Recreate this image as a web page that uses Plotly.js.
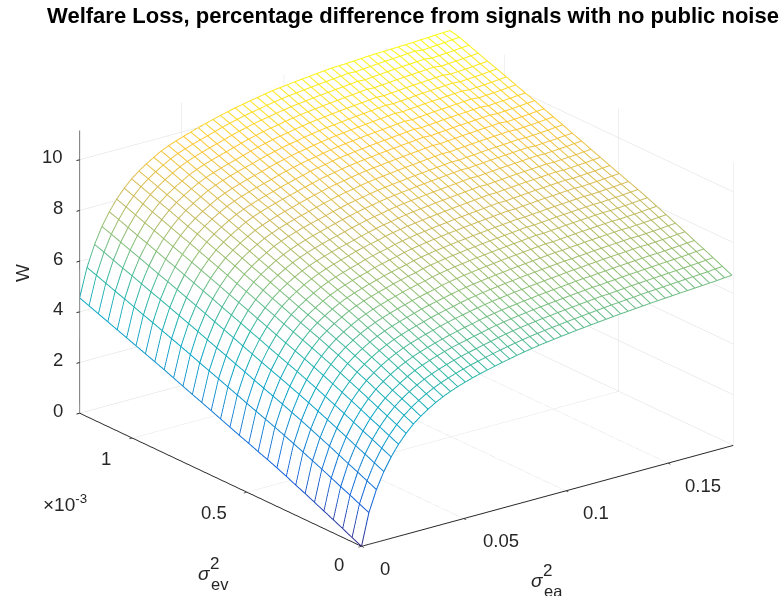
<!DOCTYPE html>
<html><head><meta charset="utf-8">
<script src="https://cdn.plot.ly/plotly-3.0.1.min.js"></script>
<style>html,body{margin:0;padding:0;background:#fff}</style></head>
<body><div id="chart" style="width:781px;height:596px"></div>
<script>
const chartTitle = "Welfare Loss, percentage difference from signals with no public noise";
const ea = [0,.0036,.0073,.0109,.0145,.0181,.0218,.0254,.029,.0326,.0363,.0399,.0435,.0471,.0508,.0544,.058,.0616,.0653,.0689,.0725,.0761,.0798,.0834,.087,.0907,.0943,.0979,.1015,.1052,.1088,.1124,.116,.1197,.1233,.1269,.1305,.1342,.1378,.1414,.145,.1487,.1523,.1559,.1595,.1632,.1668,.1704,.174,.1777,.1813];
const ev = [0,.041,.082,.123,.164,.205,.246,.287,.328,.369,.41,.451,.492,.533,.574,.615,.656,.697,.738,.779,.82,.861,.902,.943,.984,1.025,1.066,1.107,1.148,1.189,1.23];
const W = [
[0,1.25,2.08,2.71,3.21,3.63,3.98,4.27,4.50,4.70,4.88,5.03,5.16,5.27,5.37,5.46,5.54,5.61,5.68,5.75,5.81,5.87,5.93,5.98,6.03,6.07,6.11,6.15,6.18,6.22,6.25,6.28,6.31,6.34,6.37,6.40,6.42,6.45,6.47,6.50,6.52,6.54,6.56,6.58,6.60,6.62,6.64,6.66,6.68,6.71,6.73],
[.17,1.42,2.25,2.88,3.38,3.80,4.15,4.44,4.67,4.87,5.05,5.20,5.33,5.44,5.54,5.63,5.71,5.78,5.85,5.92,5.98,6.04,6.10,6.15,6.20,6.24,6.28,6.32,6.35,6.39,6.42,6.45,6.48,6.51,6.54,6.57,6.59,6.62,6.64,6.67,6.69,6.71,6.73,6.75,6.77,6.79,6.81,6.83,6.85,6.88,6.90],
[.35,1.59,2.42,3.05,3.55,3.97,4.32,4.61,4.84,5.04,5.22,5.37,5.50,5.61,5.71,5.80,5.88,5.95,6.02,6.09,6.15,6.22,6.28,6.33,6.38,6.42,6.46,6.50,6.53,6.57,6.60,6.63,6.66,6.69,6.72,6.75,6.76,6.79,6.81,6.84,6.86,6.88,6.90,6.92,6.94,6.96,6.98,7.00,7.02,7.05,7.07],
[.52,1.75,2.58,3.21,3.71,4.13,4.48,4.77,5.00,5.20,5.38,5.54,5.67,5.78,5.88,5.97,6.05,6.12,6.19,6.26,6.32,6.39,6.45,6.50,6.55,6.59,6.63,6.67,6.70,6.74,6.77,6.80,6.83,6.86,6.89,6.92,6.93,6.96,6.98,7.01,7.03,7.05,7.07,7.09,7.11,7.13,7.15,7.17,7.19,7.22,7.24],
[.69,1.92,2.75,3.38,3.88,4.30,4.65,4.94,5.17,5.37,5.55,5.70,5.83,5.94,6.04,6.13,6.21,6.29,6.36,6.43,6.49,6.56,6.62,6.67,6.72,6.76,6.80,6.84,6.87,6.91,6.94,6.97,7.00,7.03,7.06,7.09,7.10,7.13,7.15,7.18,7.20,7.22,7.24,7.26,7.28,7.29,7.31,7.33,7.35,7.38,7.40],
[.86,2.09,2.92,3.55,4.05,4.47,4.82,5.11,5.34,5.54,5.72,5.87,6.00,6.11,6.21,6.30,6.38,6.47,6.54,6.61,6.67,6.73,6.79,6.84,6.89,6.93,6.97,7.01,7.04,7.08,7.11,7.14,7.17,7.20,7.23,7.26,7.28,7.31,7.33,7.36,7.38,7.40,7.42,7.44,7.46,7.46,7.48,7.50,7.52,7.55,7.57],
[1.03,2.25,3.08,3.71,4.21,4.63,4.98,5.27,5.50,5.70,5.88,6.03,6.16,6.27,6.37,6.46,6.54,6.63,6.70,6.77,6.83,6.90,6.96,7.01,7.06,7.10,7.14,7.18,7.21,7.25,7.28,7.31,7.34,7.37,7.40,7.43,7.44,7.47,7.49,7.52,7.54,7.56,7.58,7.60,7.62,7.62,7.64,7.66,7.68,7.71,7.73],
[1.19,2.41,3.24,3.87,4.37,4.79,5.14,5.43,5.66,5.86,6.04,6.19,6.32,6.43,6.53,6.62,6.70,6.79,6.86,6.93,6.99,7.06,7.12,7.17,7.22,7.26,7.30,7.34,7.37,7.41,7.44,7.47,7.50,7.53,7.56,7.59,7.60,7.63,7.65,7.68,7.70,7.72,7.74,7.76,7.78,7.78,7.80,7.82,7.84,7.87,7.89],
[1.36,2.57,3.40,4.03,4.53,4.95,5.30,5.59,5.82,6.02,6.20,6.35,6.48,6.59,6.69,6.78,6.86,6.95,7.02,7.09,7.15,7.23,7.29,7.34,7.39,7.43,7.47,7.51,7.54,7.58,7.61,7.64,7.67,7.70,7.73,7.76,7.76,7.79,7.81,7.84,7.86,7.88,7.90,7.92,7.94,7.94,7.96,7.98,8.00,8.03,8.05],
[1.52,2.72,3.55,4.18,4.68,5.10,5.45,5.74,5.97,6.17,6.35,6.51,6.64,6.75,6.85,6.94,7.02,7.11,7.18,7.25,7.31,7.39,7.45,7.50,7.55,7.59,7.63,7.67,7.70,7.74,7.77,7.80,7.83,7.86,7.89,7.92,7.92,7.95,7.97,8.00,8.02,8.04,8.06,8.08,8.10,8.10,8.12,8.14,8.16,8.19,8.21],
[1.67,2.87,3.70,4.33,4.83,5.25,5.60,5.89,6.12,6.32,6.50,6.66,6.79,6.90,7.00,7.09,7.17,7.26,7.33,7.40,7.46,7.54,7.60,7.65,7.70,7.74,7.78,7.82,7.85,7.89,7.92,7.95,7.98,8.01,8.04,8.07,8.07,8.10,8.12,8.15,8.17,8.19,8.21,8.23,8.25,8.25,8.27,8.29,8.31,8.34,8.36],
[1.81,3.01,3.84,4.47,4.97,5.39,5.74,6.03,6.26,6.46,6.64,6.80,6.93,7.04,7.14,7.23,7.31,7.40,7.47,7.54,7.60,7.68,7.74,7.79,7.84,7.88,7.92,7.96,7.99,8.03,8.06,8.09,8.12,8.15,8.18,8.21,8.21,8.24,8.26,8.29,8.31,8.33,8.35,8.37,8.39,8.39,8.41,8.43,8.45,8.48,8.50],
[1.96,3.15,3.98,4.61,5.11,5.53,5.88,6.17,6.40,6.60,6.78,6.94,7.07,7.18,7.28,7.37,7.45,7.55,7.62,7.69,7.75,7.83,7.89,7.94,7.99,8.03,8.07,8.11,8.14,8.18,8.21,8.24,8.27,8.30,8.33,8.36,8.36,8.39,8.41,8.44,8.46,8.48,8.50,8.52,8.54,8.53,8.55,8.57,8.59,8.62,8.64],
[2.10,3.29,4.12,4.75,5.25,5.67,6.02,6.31,6.54,6.74,6.92,7.08,7.21,7.32,7.42,7.51,7.59,7.69,7.76,7.83,7.89,7.97,8.03,8.08,8.13,8.17,8.21,8.25,8.28,8.32,8.35,8.38,8.41,8.44,8.47,8.50,8.50,8.53,8.55,8.58,8.60,8.62,8.64,8.66,8.68,8.67,8.69,8.71,8.73,8.76,8.78],
[2.25,3.44,4.27,4.90,5.40,5.82,6.17,6.46,6.69,6.89,7.07,7.23,7.36,7.47,7.57,7.66,7.74,7.84,7.91,7.98,8.04,8.12,8.18,8.23,8.28,8.32,8.36,8.40,8.43,8.47,8.50,8.53,8.56,8.59,8.62,8.65,8.65,8.68,8.70,8.73,8.75,8.77,8.79,8.81,8.83,8.82,8.84,8.86,8.88,8.91,8.93],
[2.40,3.58,4.41,5.04,5.54,5.96,6.31,6.60,6.83,7.03,7.21,7.37,7.50,7.61,7.71,7.80,7.88,7.95,8.03,8.11,8.18,8.25,8.31,8.36,8.42,8.47,8.51,8.55,8.58,8.62,8.65,8.68,8.71,8.74,8.77,8.80,8.79,8.82,8.84,8.87,8.89,8.91,8.93,8.95,8.97,8.96,8.98,9.00,9.02,9.05,9.07],
[2.55,3.73,4.56,5.19,5.69,6.11,6.46,6.75,6.98,7.18,7.36,7.52,7.65,7.76,7.86,7.95,8.03,8.10,8.18,8.26,8.33,8.40,8.46,8.51,8.57,8.62,8.66,8.70,8.73,8.77,8.80,8.83,8.86,8.89,8.92,8.95,8.94,8.97,8.99,9.02,9.04,9.06,9.08,9.10,9.12,9.11,9.13,9.15,9.17,9.20,9.22],
[2.70,3.87,4.70,5.33,5.83,6.25,6.60,6.89,7.12,7.32,7.50,7.66,7.79,7.90,8.00,8.09,8.17,8.25,8.33,8.41,8.48,8.55,8.61,8.66,8.72,8.77,8.81,8.85,8.88,8.92,8.95,8.98,9.01,9.04,9.07,9.10,9.09,9.12,9.14,9.17,9.19,9.21,9.23,9.25,9.27,9.25,9.27,9.29,9.31,9.34,9.36],
[2.84,4.01,4.84,5.47,5.97,6.39,6.74,7.03,7.26,7.46,7.64,7.81,7.94,8.05,8.15,8.24,8.32,8.39,8.47,8.55,8.62,8.69,8.75,8.80,8.86,8.91,8.95,8.99,9.02,9.06,9.09,9.12,9.15,9.18,9.21,9.24,9.23,9.26,9.28,9.31,9.33,9.35,9.37,9.39,9.41,9.40,9.42,9.44,9.46,9.49,9.51],
[2.99,4.16,4.99,5.62,6.12,6.54,6.89,7.18,7.41,7.61,7.79,7.95,8.08,8.19,8.29,8.38,8.46,8.54,8.62,8.70,8.77,8.84,8.90,8.95,9.01,9.06,9.10,9.14,9.17,9.21,9.24,9.27,9.30,9.33,9.36,9.39,9.38,9.41,9.43,9.46,9.48,9.50,9.52,9.54,9.56,9.54,9.56,9.58,9.60,9.63,9.65],
[3.14,4.30,5.13,5.76,6.26,6.68,7.03,7.32,7.55,7.75,7.93,8.09,8.22,8.33,8.43,8.52,8.60,8.69,8.77,8.85,8.92,8.99,9.05,9.10,9.16,9.21,9.25,9.29,9.32,9.36,9.39,9.42,9.45,9.48,9.51,9.54,9.53,9.56,9.58,9.61,9.63,9.65,9.67,9.69,9.71,9.68,9.70,9.72,9.74,9.77,9.79],
[3.29,4.44,5.27,5.90,6.40,6.82,7.17,7.46,7.69,7.89,8.07,8.24,8.37,8.48,8.58,8.67,8.75,8.83,8.91,8.99,9.06,9.14,9.20,9.25,9.31,9.36,9.40,9.44,9.47,9.51,9.54,9.57,9.60,9.63,9.66,9.69,9.67,9.70,9.72,9.75,9.77,9.79,9.81,9.83,9.85,9.83,9.85,9.87,9.89,9.92,9.94],
[3.43,4.58,5.41,6.04,6.54,6.96,7.31,7.60,7.83,8.03,8.21,8.37,8.50,8.61,8.71,8.80,8.88,8.97,9.05,9.13,9.20,9.28,9.34,9.39,9.45,9.50,9.54,9.58,9.61,9.65,9.68,9.71,9.74,9.77,9.80,9.83,9.81,9.84,9.86,9.89,9.91,9.93,9.95,9.97,9.99,9.96,9.98,10.00,10.02,10.05,10.07],
[3.57,4.72,5.55,6.18,6.68,7.10,7.45,7.74,7.97,8.17,8.35,8.51,8.64,8.75,8.85,8.94,9.02,9.10,9.19,9.27,9.34,9.41,9.47,9.52,9.58,9.63,9.68,9.72,9.75,9.79,9.82,9.85,9.88,9.91,9.94,9.97,9.95,9.98,10.00,10.03,10.05,10.07,10.09,10.11,10.13,10.10,10.12,10.14,10.16,10.19,10.21],
[3.71,4.85,5.68,6.31,6.81,7.23,7.58,7.87,8.10,8.30,8.48,8.65,8.78,8.89,8.99,9.08,9.16,9.24,9.33,9.41,9.48,9.55,9.61,9.66,9.72,9.77,9.82,9.86,9.89,9.93,9.96,9.99,10.02,10.05,10.08,10.11,10.09,10.12,10.14,10.17,10.19,10.21,10.23,10.25,10.27,10.24,10.26,10.28,10.30,10.33,10.35],
[3.85,4.99,5.82,6.45,6.95,7.37,7.72,8.01,8.24,8.44,8.62,8.79,8.92,9.03,9.13,9.22,9.30,9.38,9.47,9.55,9.62,9.69,9.75,9.80,9.86,9.91,9.96,10.00,10.03,10.07,10.10,10.13,10.16,10.19,10.22,10.25,10.23,10.26,10.28,10.31,10.33,10.35,10.37,10.39,10.41,10.38,10.40,10.42,10.44,10.47,10.49],
[3.99,5.13,5.96,6.59,7.09,7.51,7.86,8.15,8.38,8.58,8.76,8.92,9.05,9.16,9.26,9.35,9.43,9.52,9.61,9.69,9.76,9.83,9.89,9.94,10.00,10.05,10.10,10.14,10.17,10.21,10.24,10.27,10.30,10.33,10.36,10.39,10.37,10.40,10.42,10.45,10.47,10.49,10.51,10.53,10.55,10.51,10.53,10.55,10.57,10.60,10.62],
[4.13,5.26,6.09,6.72,7.22,7.64,7.99,8.28,8.51,8.71,8.89,9.06,9.19,9.30,9.40,9.49,9.57,9.66,9.75,9.83,9.90,9.97,10.03,10.08,10.14,10.19,10.24,10.28,10.31,10.35,10.38,10.41,10.44,10.47,10.50,10.53,10.51,10.54,10.56,10.59,10.61,10.63,10.65,10.67,10.69,10.65,10.67,10.69,10.71,10.74,10.76],
[4.27,5.40,6.23,6.86,7.36,7.78,8.13,8.42,8.65,8.85,9.03,9.20,9.33,9.44,9.54,9.63,9.71,9.80,9.89,9.97,10.04,10.11,10.17,10.22,10.28,10.33,10.38,10.42,10.45,10.49,10.52,10.55,10.58,10.61,10.64,10.67,10.65,10.68,10.70,10.73,10.75,10.77,10.79,10.81,10.83,10.79,10.81,10.83,10.85,10.88,10.90],
[4.41,5.54,6.37,7.00,7.50,7.92,8.27,8.56,8.79,8.99,9.17,9.34,9.47,9.58,9.68,9.77,9.85,9.94,10.03,10.11,10.18,10.25,10.31,10.36,10.42,10.47,10.52,10.56,10.59,10.63,10.66,10.69,10.72,10.75,10.78,10.81,10.79,10.82,10.84,10.87,10.89,10.91,10.93,10.95,10.97,10.93,10.95,10.97,10.99,11.02,11.04],
[4.55,5.67,6.50,7.13,7.63,8.05,8.40,8.69,8.92,9.12,9.30,9.47,9.60,9.71,9.81,9.90,10.00,10.08,10.16,10.24,10.31,10.38,10.44,10.50,10.55,10.61,10.66,10.70,10.73,10.77,10.80,10.83,10.86,10.89,10.92,10.93,10.94,10.96,10.98,11.00,11.01,11.02,11.03,11.04,11.05,11.06,11.08,11.09,11.11,11.12,11.13]
];
const eaTicks = [0,.05,.1,.15], eaTickText = ["0","0.05","0.1","0.15"];
const evTicks = [0,.5,1], evTickText = ["0","0.5","1"];
const wTicks = [0,2,4,6,8,10], wTickText = ["0","2","4","6","8","10"];

const parula = [[0,'rgb(53,42,135)'],[.125,'rgb(15,92,221)'],[.25,'rgb(20,132,212)'],[.375,'rgb(6,166,198)'],
 [.5,'rgb(46,183,164)'],[.625,'rgb(135,191,119)'],[.75,'rgb(209,187,89)'],[.875,'rgb(254,200,50)'],[1,'rgb(249,251,14)']];
const white = [[0,'#fff'],[1,'#fff']];
const FONT = 'Liberation Sans, Arial, sans-serif';
const INK = '#262626';
const LW = 2;

const faces = {type:'surface',x:ea,y:ev,z:W.map(r=>r.map(v=>v-0.05)),colorscale:white,showscale:false,
  hoverinfo:'skip',lighting:{ambient:1,diffuse:0,specular:0,fresnel:0,roughness:1},
  contours:{x:{highlight:false},y:{highlight:false},z:{highlight:false}}};
const line = (x,y,z)=>({type:'scatter3d',mode:'lines',x,y,z,hoverinfo:'skip',showlegend:false,
  line:{color:z,colorscale:parula,cmin:0,cmax:11.13,width:LW}});
const rowLines = ev.map((v,j)=>line(ea,ea.map(()=>v),W[j]));
const colLines = ea.map((u,i)=>line(ev.map(()=>u),ev,W.map(r=>r[i])));

function ax(range,tv,tt,lc){return {range:range,tickmode:'array',tickvals:tv,ticktext:tt,title:{text:''},showticklabels:false,
  showbackground:false,showgrid:true,gridcolor:'#dcdcdc',gridwidth:1,zeroline:false,showline:true,linecolor:lc,linewidth:2,
  ticks:'outside',ticklen:4,tickcolor:INK,tickwidth:2,showspikes:false};}

const tick = (x,y,z,text,dx,dy)=>({x,y,z,text,showarrow:false,xshift:dx,yshift:-dy,xanchor:'center',yanchor:'middle',
  font:{family:FONT,size:18.5,color:INK}});
const sceneAnn = [].concat(
  eaTicks.map((v,i)=>tick(v,0,0,eaTickText[i],[23,37,30,35][i],[22,22,22,22][i])),
  evTicks.map((v,i)=>tick(0,v,0,evTickText[i],[-23,-33,-26][i],[18,20,20][i])),
  wTicks.map((v,i)=>tick(0,1.23,v,wTickText[i],v===10?-27:-22,-3)));

const labels = [
   {text:'W',x:22,y:273,textangle:-90,size:19},
   {text:'σ',x:537,y:580,size:19,italic:true},
   {text:'2',x:547,y:570,size:17},
   {text:'ea',x:553,y:591,size:16.5},
   {text:'σ',x:204,y:573,size:19,italic:true},
   {text:'2',x:215,y:563,size:17},
   {text:'ev',x:220,y:584,size:16.5},
   {text:'×10<sup>-3</sup>',x:65,y:503,size:19}
];
const layout = {
  width:781,height:596,margin:{l:0,r:0,t:0,b:0},paper_bgcolor:'#fff',showlegend:false,
  title:{text:'<b>'+chartTitle+'</b>',font:{family:FONT,size:22,color:'#000'},x:413/781,xanchor:'center',y:1-15/596,yanchor:'middle'},
  scene:{domain:{x:[32/781,1],y:[20/596,1]},
    aspectmode:'manual',aspectratio:{x:1.62,y:1.62,z:1.051},
    camera:{projection:{type:'orthographic'},up:{x:0,y:0,z:1},center:{x:0,y:0,z:0},eye:{x:-.564*2,y:-.744*2,z:.358*2}},
    xaxis:ax([0,.182],eaTicks,eaTickText,INK),yaxis:ax([0,1.23],evTicks,evTickText,INK),zaxis:ax([0,11.15],wTicks,wTickText,'#666'),
    annotations:sceneAnn},
  annotations:labels.map(a=>({xref:'paper',yref:'paper',showarrow:false,xanchor:'center',yanchor:'middle',
     text:a.italic?'<i>'+a.text+'</i>':a.text,textangle:a.textangle||0,x:a.x/781,y:1-a.y/596,
     font:{family:FONT,color:INK,size:a.size}}))
};
Plotly.newPlot('chart',[faces].concat(rowLines,colLines),layout,{displayModeBar:false});
</script></body></html>
